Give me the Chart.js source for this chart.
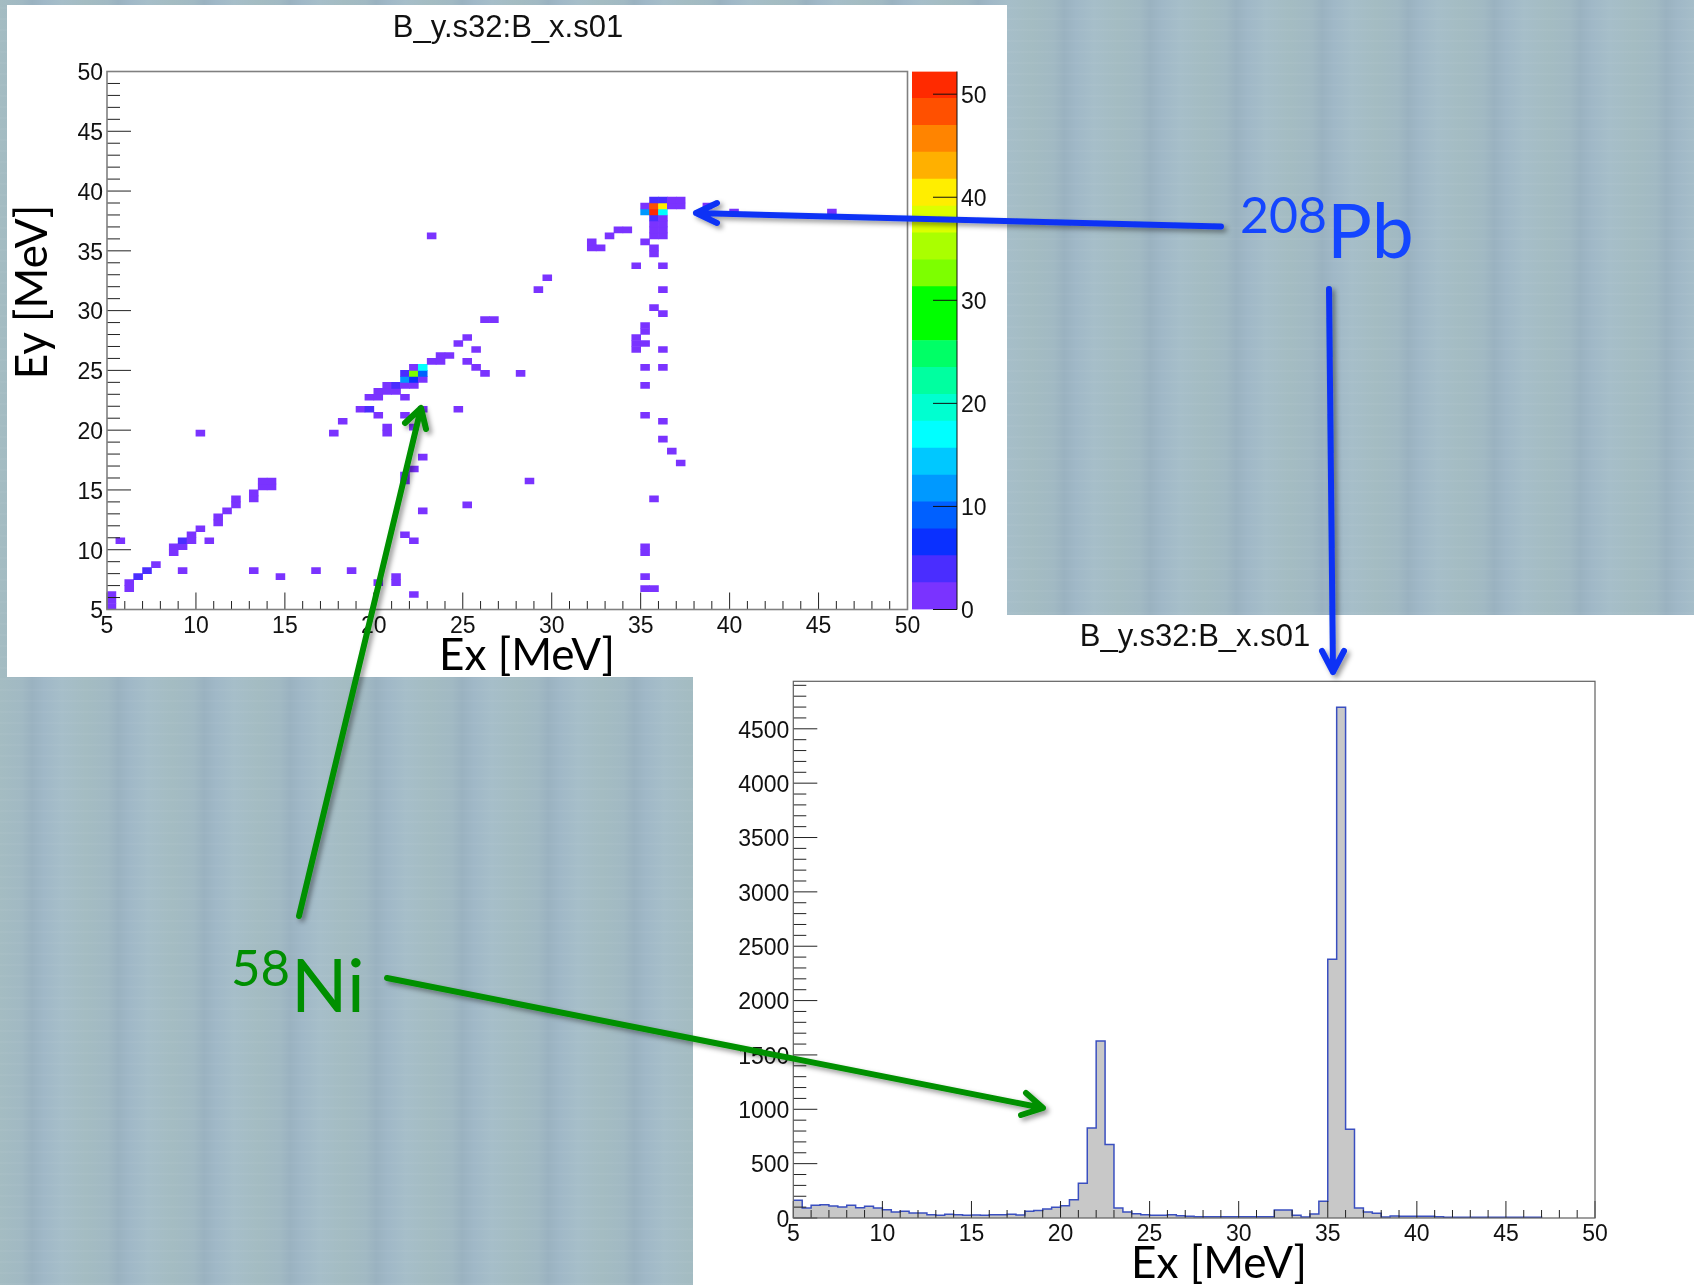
<!DOCTYPE html>
<html>
<head>
<meta charset="utf-8">
<title>B_y.s32:B_x.s01</title>
<script src="https://cdn.jsdelivr.net/npm/chart.js@4/dist/chart.umd.min.js"></script>
<style>
    html, body { margin: 0; padding: 0; }
    body {
        position: relative;
        width: 1694px;
        height: 1285px;
        overflow: hidden;
        background:
            repeating-linear-gradient(0deg, rgba(255,255,255,0.03) 0 2px, transparent 2px 11px),
            repeating-linear-gradient(90deg, #a4bcc2 0, #a1b9c3 22px, #9ab2c0 32px, #a0b8c7 44px, #a6bec9 62px, #a4bcc2 86px);
    }
    .panel { position: absolute; background: #fff; }
    canvas { position: absolute; }
    svg { position: absolute; left: 0; top: 0; }
</style>
</head>
<body>
<div class="panel" style="left:7px;top:5px;width:1000px;height:672px"></div>
<div class="panel" style="left:693px;top:615px;width:1001px;height:670px"></div>

<canvas id="mapChart" width="1000" height="672" style="left:7px;top:5px"></canvas>
<canvas id="zBar" width="102" height="562" style="left:905px;top:60px"></canvas>
<canvas id="histChart" width="1001" height="670" style="left:693px;top:615px"></canvas>

<!-- Slide annotations pasted over the two plots -->
<svg width="1694" height="1285">
    <defs>
        <filter id="shadow" x="-20%" y="-20%" width="140%" height="140%">
            <feDropShadow dx="3" dy="3" stdDeviation="2.5" flood-color="#000" flood-opacity="0.4"/>
        </filter>
    </defs>
    <g font-family="Liberation Sans" fill="#111" font-size="31" text-anchor="middle">
        <text x="508" y="37">B_y.s32:B_x.s01</text>
        <text x="1195" y="646">B_y.s32:B_x.s01</text>
    </g>
    <g fill="none" stroke="#0a32f5" stroke-width="6" stroke-linecap="round" stroke-linejoin="round" filter="url(#shadow)">
        <path d="M1221 226.5 L696 213 M717 203 L696 213 L717 223"/>
        <path d="M1329 289 L1333 672 M1322 651 L1333 672 L1344 651"/>
    </g>
    <g fill="none" stroke="#009000" stroke-width="6" stroke-linecap="round" stroke-linejoin="round" filter="url(#shadow)">
        <path d="M299 916 L421 408 M405 423 L421 408 L426 429"/>
        <path d="M387 978 L1043 1108 M1021 1115 L1043 1108 L1026 1093"/>
    </g>
    <g font-family="Lato" fill="#000" font-size="44" text-anchor="middle">
        <text x="527" y="670">Ex [MeV]</text>
        <text x="1219" y="1278">Ex [MeV]</text>
        <text transform="translate(47 292) rotate(-90)">Ey [MeV]</text>
    </g>
    <g font-family="Lato" fill="#1446ff">
        <text x="1240" y="233" font-size="50">208</text>
        <text x="1327" y="258" font-size="75">Pb</text>
    </g>
    <g font-family="Lato" fill="#008f00">
        <text x="231" y="986" font-size="51">58</text>
        <text x="291" y="1012" font-size="74">Ni</text>
    </g>
</svg>

<script>
// ============================================================
// Two ROOT canvases from a slide: the Ey vs Ex map with its
// colour bar, and the Ex projection below it.
// ============================================================

const BIN_WIDTH = 0.5;   // MeV, both axes

// ── Tick labels ──────────────────────────────────────────────
const energyTicks = [5, 10, 15, 20, 25, 30, 35, 40, 45, 50];
const zTicks      = [0, 10, 20, 30, 40, 50];
const countTicks  = [0, 500, 1000, 1500, 2000, 2500, 3000, 3500, 4000, 4500];

// ── Map cells ────────────────────────────────────────────────
// One row per Ey bin (lower edge) with the Ex lower edges filled
const rowEy = [
    5, 5.5, 6, 6.5, 7, 7.5, 8, 8.5, 9.5, 10, 10.5, 11, 11.5, 12, 12.5,
    13, 13.5, 14, 14.5, 15, 15.5, 16, 16.5, 17, 17.5, 18, 19, 19.5, 20,
    20.5, 21, 21.5, 22.5, 23, 23.5, 24, 24.5, 25, 25.5, 26, 26.5, 27,
    27.5, 28, 28.5, 29, 29.5, 30, 31.5, 32.5, 33.5, 34.5, 35, 35.5, 36,
    36.5, 37, 37.5, 38, 38.5, 39
];
const rowEx = [
    [5], [5], [5, 22], [6, 35, 35.5], [6, 20, 21], [6.5, 14.5, 21, 35],
    [7, 9, 13, 16.5, 18.5], [7.5], [8.5, 35], [8.5, 9, 35],
    [5.5, 9, 9.5, 10.5, 22], [9.5, 21.5], [10], [11], [11],
    [11.5, 22.5], [12, 25], [12, 13, 35.5], [13], [13.5, 14],
    [13.5, 14, 21.5, 28.5], [21.5], [22], [37], [22.5], [36.5], [36],
    [10, 17.5, 20.5], [20.5, 22],
    [18, 36], [20, 21.5, 35], [19, 19.5, 22.5, 24.5], [19.5, 20, 21.5],
    [20, 20.5, 21], [20.5, 21, 21.5, 22, 35], [21.5, 22, 22.5],
    [21.5, 22, 22.5, 26, 28], [22, 22.5, 25.5, 35, 36], [23, 23.5, 25],
    [23.5, 24], [25.5, 34.5, 36], [24.5, 34.5, 35],
    [25, 34.5], [35], [35], [26, 26.5], [36], [35.5], [29, 36], [29.5],
    [34.5, 36], [35.5], [32, 32.5, 35.5], [32, 35], [23, 33, 35.5, 36],
    [33.5, 34, 35.5, 36], [35.5, 36], [35.5, 36],
    [35, 35.5, 36, 40, 45.5], [35, 35.5, 36, 36.5, 37, 38.5],
    [35.5, 36, 36.5, 37]
];

// Cells above the lowest colour band; every other cell holds 1 count
const hotEx    = [6.5, 7,   9,    19.5, 21,   21.5, 22, 21.5, 22,   22.5, 22.5, 35.5, 35, 35.5, 36, 35.5, 36,   35.5, 36];
const hotEy    = [7.5, 8,   10.5, 21.5, 23.5, 24,   24, 24.5, 24.5, 24.5, 25,   37.5, 38, 38,   38, 38.5, 38.5, 39,   39];
const hotCount = [4,   4,   4,    4,    4,    12,   7,  4,    33,   9,    17,   4,    12, 51,   17, 48,   41,   4,    4];

// ── Colour bar ───────────────────────────────────────────────
const zEdges = [
    0, 2.61, 5.22, 7.83, 10.44, 13.05, 15.66, 18.27, 20.88, 23.49, 26.1,
    28.71, 31.32, 33.93, 36.54, 39.15, 41.76, 44.37, 46.98, 49.59, 52.2
];
const zColors = [
    '#7a33ff', '#4a2dff', '#0a30ff', '#0060ff', '#0099ff',
    '#00c8ff', '#00ffff', '#00ffd0', '#00ffa0', '#00ff66',
    '#00ff00', '#00ff00', '#7dff00', '#aaff00', '#dcff00',
    '#ffee00', '#ffb000', '#ff8400', '#ff5000', '#ff2a00'
];

// ── Ex projection ────────────────────────────────────────────
// Counts per 0.5 MeV bin starting at 5 MeV, the last filled bin ends at 47
const histCounts = [
    163, 92, 117, 123, 110, 101, 117, 95, 107, 92,
    77, 55, 61, 46, 46, 31, 25, 34, 31, 25,
    28, 25, 31, 31, 34, 28, 61, 70, 83, 98,
    113, 169, 319, 828, 1628, 675, 92, 55, 40, 31,
    25, 25, 31, 21, 15, 12, 12, 12, 12, 12,
    12, 12, 12, 12, 74, 74, 25, 9, 37, 153,
    2380, 4698, 816, 92, 55, 43, 9, 18, 15, 15,
    15, 15, 12, 6, 6, 6, 6, 6, 6, 6,
    6, 6, 6, 6
];

// Builds the floating-bar points for the map from the rows above
function buildCells() {
    const cells = [];
    rowEy.forEach((ey, r) => {
        rowEx[r].forEach(ex => {
            const hot = hotEx.findIndex((hx, h) => hx === ex && hotEy[h] === ey);
            cells.push({
                x: ex + BIN_WIDTH / 2,
                y: [ey, ey + BIN_WIDTH],
                count: hot >= 0 ? hotCount[hot] : 1
            });
        });
    });
    return cells;
}

// Colour band a bin content falls in
function zColor(count) {
    let i = 0;
    while (i < zColors.length - 1 && count >= zEdges[i + 1]) i++;
    return zColors[i];
}


// ── ROOT style frame and inward ticks ────────────────────────
// Chart.js only has outward ticks of one length, so this walks
// the values and asks the scales where each tick goes
const rootAxes = {
    id: 'rootAxes',
    afterDatasetsDraw(chart, args, opts) {
        const { ctx, chartArea: a, scales } = chart;
        ctx.save();
        ctx.lineWidth = 1;
        ctx.strokeStyle = opts.tickColor;
        ctx.beginPath();
        if (opts.x) {
            const s = scales.x;
            for (let v = s.min; v <= s.max; v += opts.x.minor) {
                const len = v % opts.x.major === 0 ? opts.x.majorLen : opts.x.minorLen;
                const px = s.getPixelForValue(v);
                ctx.moveTo(px, a.bottom);
                ctx.lineTo(px, a.bottom - len);
            }
        }
        if (opts.y) {
            const s = scales.y;
            for (let v = s.min; v <= s.max; v += opts.y.minor) {
                const len = v % opts.y.major === 0 ? opts.y.majorLen : opts.y.minorLen;
                const py = s.getPixelForValue(v);
                ctx.moveTo(a.left, py);
                ctx.lineTo(a.left + len, py);
            }
        }
        ctx.stroke();
        ctx.lineWidth = opts.frameWidth;
        ctx.strokeStyle = opts.frameColor;
        ctx.strokeRect(a.left, a.top, a.right - a.left, a.bottom - a.top);
        ctx.restore();
    }
};

Chart.defaults.font.family = '"Liberation Sans"';
Chart.defaults.color = '#111';
Chart.defaults.animation = false;
Chart.defaults.plugins.legend.display = false;
Chart.defaults.plugins.tooltip.enabled = false;

// Shared axis setup, the afterFit keeps the plot box where the slide has it
function axis(min, max, tickValues, size, isX) {
    return {
        type: 'linear',
        min, max,
        offset: false,
        grid: { display: false, drawTicks: false },
        border: { display: false },
        ticks: {
            autoSkip: false,
            maxRotation: 0,
            padding: isX ? 3 : 4,
            labelOffset: isX ? 0 : 2.5,
            font: { size: 23 },
            callback: v => String(v)
        },
        afterBuildTicks(s) {
            s.ticks = tickValues.map(value => ({ value }));
        },
        afterFit(s) {
            if (isX) s.height = size; else s.width = size;
            s.paddingLeft = s.paddingRight = s.paddingTop = s.paddingBottom = 0;
        }
    };
}


// ── 1. Ey vs Ex map ──────────────────────────────────────────
const cells = buildCells();
new Chart(document.getElementById('mapChart'), {
    type: 'bar',
    plugins: [rootAxes],
    data: {
        datasets: [{
            data: cells,
            backgroundColor: cells.map(c => zColor(c.count)),
            barThickness: 8.9
        }]
    },
    options: {
        responsive: false,
        layout: { padding: { right: 99.5, top: 66.5 } },
        scales: {
            x: axis(5, 50, energyTicks, 67.5, true),
            y: axis(5, 50, energyTicks, 100, false)
        },
        plugins: {
            rootAxes: {
                tickColor: '#222', frameColor: '#808080', frameWidth: 1.6,
                x: { major: 5, minor: 1, majorLen: 17, minorLen: 8.5 },
                y: { major: 5, minor: 1, majorLen: 24, minorLen: 13 }
            }
        }
    }
});


// ── 2. Colour bar ────────────────────────────────────────────
const zAxis = axis(0, 52.2, zTicks, 50, false);
zAxis.position = 'right';
new Chart(document.getElementById('zBar'), {
    type: 'bar',
    plugins: [{
        // Ticks start at the right edge of the bar and point left
        id: 'zTicks',
        afterDatasetsDraw(chart) {
            const { ctx, chartArea: a, scales } = chart;
            ctx.save();
            ctx.strokeStyle = '#111';
            ctx.lineWidth = 1;
            ctx.beginPath();
            ctx.moveTo(a.right, a.top);
            ctx.lineTo(a.right, a.bottom);
            scales.y.ticks.forEach(t => {
                const py = scales.y.getPixelForValue(t.value);
                ctx.moveTo(a.right, py);
                ctx.lineTo(a.right - 24, py);
            });
            ctx.stroke();
            ctx.restore();
        }
    }],
    data: {
        labels: ['z'],
        datasets: zColors.map((color, i) => ({
            data: [[zEdges[i], zEdges[i + 1]]],
            backgroundColor: color,
            grouped: false,
            barPercentage: 1,
            categoryPercentage: 1
        }))
    },
    options: {
        responsive: false,
        layout: { padding: { left: 7, top: 11.5, bottom: 12.5 } },
        scales: {
            x: { display: false },
            y: zAxis
        }
    }
});


// ── 3. Ex projection ─────────────────────────────────────────
// Stepped line from bin edge to bin edge, closed with a zero at the end
const histPoints = histCounts.map((n, i) => ({ x: 5 + i * BIN_WIDTH, y: n }));
histPoints.push({ x: 5 + histCounts.length * BIN_WIDTH, y: 0 });

new Chart(document.getElementById('histChart'), {
    type: 'line',
    plugins: [rootAxes],
    data: {
        datasets: [{
            data: histPoints,
            stepped: 'before',
            borderColor: '#3a4fc0',
            borderWidth: 1.5,
            backgroundColor: '#c8c8c8',
            fill: 'origin',
            pointRadius: 0
        }]
    },
    options: {
        responsive: false,
        layout: { padding: { right: 99, top: 66.3 } },
        scales: {
            x: axis(5, 50, energyTicks, 67, true),
            y: axis(0, 4937, countTicks, 100.3, false)
        },
        plugins: {
            rootAxes: {
                tickColor: '#222', frameColor: '#606060', frameWidth: 1.2,
                x: { major: 5, minor: 1, majorLen: 17, minorLen: 8 },
                y: { major: 500, minor: 100, majorLen: 24, minorLen: 13 }
            }
        }
    }
});
</script>
</body>
</html>
